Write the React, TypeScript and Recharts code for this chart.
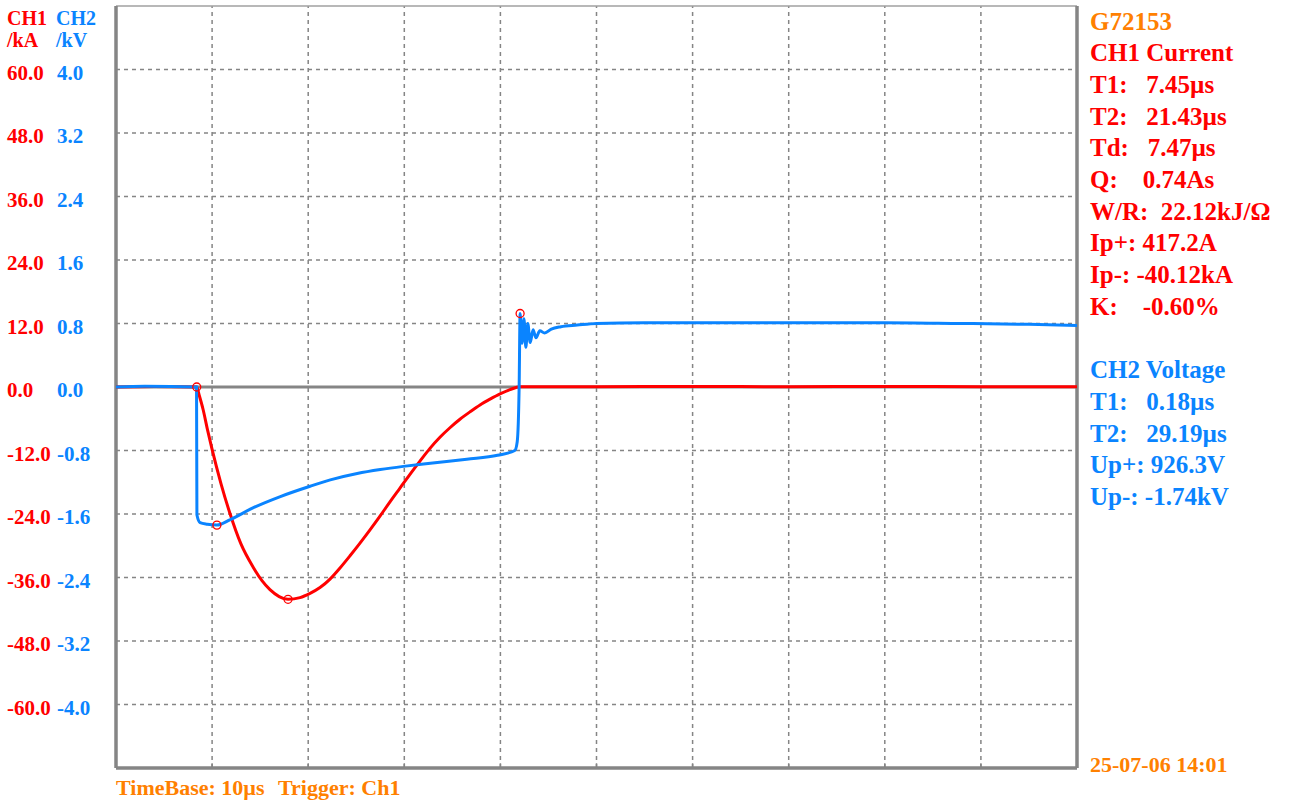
import React from "react";
import { ComposedChart, Line, XAxis, YAxis, ReferenceLine, ReferenceDot } from "recharts";

// ---- data (time in µs) ----
const currentTime = [0, 4, 8.4, 8.65, 9.07, 9.5, 10.0, 10.93, 11.86, 12.99, 14.26, 15.19, 16.02, 16.98, 17.90, 19.15, 20.19, 21.23, 22.27, 23.31, 24.35, 25.39, 26.43, 27.47, 28.51, 29.55, 30.59, 31.63, 32.67, 33.71, 34.75, 35.79, 36.84, 37.88, 38.92, 39.96, 41.0, 42.04, 50, 60, 70, 80, 90, 100];
const currentKA = [0, 0.1, 0, -1.5, -4.3, -7.9, -11.8, -18.3, -23.9, -29.6, -34.0, -36.6, -38.3, -39.6, -40.12, -39.8, -39.0, -37.9, -36.3, -34.2, -31.9, -29.5, -27.0, -24.4, -21.7, -19.1, -16.5, -14.0, -11.6, -9.5, -7.7, -6.1, -4.7, -3.4, -2.3, -1.3, -0.5, 0.05, 0.05, 0.1, 0.05, 0.1, 0.05, 0.05];

const voltageTime = [0, 3, 8.38, 8.42, 8.75, 9.5, 10.5, 11.9, 14.3, 17.1, 20.2, 22.3, 25.1, 27.5, 29.9, 32.0, 34.4, 36.5, 39.7, 41.5, 41.75, 41.95, 42.05, 42.25, 42.45, 42.65, 42.85, 43.1, 43.4, 43.7, 44.1, 44.6, 45.3, 46.3, 48.0, 50.0, 55, 60, 70, 80, 88, 95, 100];
const voltageKV = [0, 0.01, 0, -1.61, -1.71, -1.73, -1.74, -1.67, -1.52, -1.38, -1.25, -1.17, -1.09, -1.04, -1.0, -0.97, -0.94, -0.91, -0.86, -0.8, -0.69, 0.0, 0.926, 0.55, 0.86, 0.5, 0.8, 0.56, 0.72, 0.62, 0.71, 0.68, 0.73, 0.76, 0.78, 0.8, 0.81, 0.81, 0.81, 0.81, 0.8, 0.79, 0.775];

const kaTicks = [60, 48, 36, 24, 12, 0, -12, -24, -36, -48, -60];
const kvTicks = ["4.0", "3.2", "2.4", "1.6", "0.8", "0.0", "-0.8", "-1.6", "-2.4", "-3.2", "-4.0"];
const timeGrid = [10, 20, 30, 40, 50, 60, 70, 80, 90];
const kaDomain = [-72, 72];
const kvDomain = [-4.8, 4.8];
const timeDomain = [0, 100];

const ch1Lines = [
  ["CH1 Current", ""],
  ["T1:   ", "7.45µs"],
  ["T2:   ", "21.43µs"],
  ["Td:   ", "7.47µs"],
  ["Q:    ", "0.74As"],
  ["W/R:  ", "22.12kJ/Ω"],
  ["Ip+: ", "417.2A"],
  ["Ip-: ", "-40.12kA"],
  ["K:    ", "-0.60%"],
];
const ch2Lines = [
  ["CH2 Voltage", ""],
  ["T1:   ", "0.18µs"],
  ["T2:   ", "29.19µs"],
  ["Up+: ", "926.3V"],
  ["Up-: ", "-1.74kV"],
];

const RED = "#ff0000";
const BLUE = "#0a84ff";
const ORANGE = "#ff8000";
const GRAY = "#858585";
const FONT = "'Liberation Serif', 'Times New Roman', serif";

const currentData = currentTime.map((t, i) => ({ t, i: currentKA[i] }));
const voltageData = voltageTime.map((t, i) => ({ t, v: voltageKV[i] }));

const iMinIdx = currentKA.indexOf(Math.min(...currentKA));
const iStartIdx = 2;
const vMinIdx = voltageKV.indexOf(Math.min(...voltageKV));
const vMaxIdx = voltageKV.indexOf(Math.max(...voltageKV));

const AxisTick = (props: any) => {
  const { y, payload } = props;
  const idx = kaTicks.indexOf(payload.value);
  return (
    <g style={{ fontFamily: FONT, fontWeight: "bold", fontSize: 21 }}>
      <text x={7} y={y + 10} fill={RED} textAnchor="start">
        {Number(payload.value).toFixed(1)}
      </text>
      <text x={57} y={y + 10} fill={BLUE} textAnchor="start">
        {kvTicks[idx]}
      </text>
    </g>
  );
};

export default function App() {
  const lineH = 31.7;
  return (
    <div style={{ position: "absolute", left: 0, top: 0, width: 1295, height: 805, background: "#fff" }}>
      <ComposedChart width={1295} height={805} margin={{ top: 6, right: 218, bottom: 37, left: 0 }}>
        <XAxis xAxisId="x" dataKey="t" type="number" domain={timeDomain} hide allowDataOverflow />
        <YAxis
          yAxisId="i"
          type="number"
          domain={kaDomain}
          ticks={kaTicks}
          interval={0}
          width={116}
          axisLine={false}
          tickLine={false}
          tick={<AxisTick />}
          allowDataOverflow
        />
        <YAxis yAxisId="v" type="number" domain={kvDomain} hide allowDataOverflow />

        {timeGrid.map((t) => (
          <ReferenceLine key={"vx" + t} xAxisId="x" yAxisId="i" x={t} stroke={GRAY} strokeWidth={1.5} strokeDasharray="4 4" />
        ))}
        {kaTicks.filter((v) => v !== 0).map((v) => (
          <ReferenceLine key={"hy" + v} xAxisId="x" yAxisId="i" y={v} stroke={GRAY} strokeWidth={1.5} strokeDasharray="4 4" />
        ))}
        {timeGrid.map((t) => (
          <ReferenceLine
            key={"tk" + t}
            xAxisId="x"
            yAxisId="i"
            segment={[{ x: t, y: kaDomain[0] }, { x: t, y: kaDomain[0] + 0.9 }]}
            stroke={GRAY}
            strokeWidth={1.5}
          />
        ))}
        <ReferenceLine xAxisId="x" yAxisId="i" y={0} stroke={GRAY} strokeWidth={3} />
        <ReferenceLine xAxisId="x" yAxisId="i" y={kaDomain[1]} stroke="#a0a0a0" strokeWidth={1.5} />
        <ReferenceLine xAxisId="x" yAxisId="i" y={kaDomain[0]} stroke={GRAY} strokeWidth={3.5} />
        <ReferenceLine xAxisId="x" yAxisId="i" x={timeDomain[0]} stroke={GRAY} strokeWidth={3.5} />
        <ReferenceLine xAxisId="x" yAxisId="i" x={timeDomain[1]} stroke={GRAY} strokeWidth={3.5} />

        <Line
          xAxisId="x"
          yAxisId="i"
          data={currentData}
          dataKey="i"
          type="monotone"
          stroke={RED}
          strokeWidth={3}
          dot={false}
          isAnimationActive={false}
        />
        <Line
          xAxisId="x"
          yAxisId="v"
          data={voltageData}
          dataKey="v"
          type="monotone"
          stroke={BLUE}
          strokeWidth={3}
          dot={false}
          isAnimationActive={false}
        />

        <ReferenceDot xAxisId="x" yAxisId="i" x={currentTime[iStartIdx]} y={currentKA[iStartIdx]} r={4} fill="none" stroke={RED} strokeWidth={1.3} />
        <ReferenceDot xAxisId="x" yAxisId="i" x={currentTime[iMinIdx]} y={currentKA[iMinIdx]} r={4} fill="none" stroke={RED} strokeWidth={1.3} />
        <ReferenceDot xAxisId="x" yAxisId="v" x={voltageTime[vMinIdx]} y={voltageKV[vMinIdx]} r={4} fill="none" stroke={RED} strokeWidth={1.3} />
        <ReferenceDot xAxisId="x" yAxisId="v" x={voltageTime[vMaxIdx]} y={voltageKV[vMaxIdx]} r={4} fill="none" stroke={RED} strokeWidth={1.3} />
      </ComposedChart>

      <svg
        width={1295}
        height={805}
        style={{ position: "absolute", left: 0, top: 0, pointerEvents: "none", fontFamily: FONT, fontWeight: "bold" }}
      >
        <g fontSize={20}>
          <text x={7} y={25} fill={RED}>CH1</text>
          <text x={56} y={25} fill={BLUE}>CH2</text>
          <text x={7} y={47} fill={RED}>/kA</text>
          <text x={56} y={47} fill={BLUE}>/kV</text>
        </g>
        <g fontSize={25} style={{ whiteSpace: "pre" }}>
          <text x={1090} y={29.5} fill={ORANGE}>G72153</text>
          {ch1Lines.map((l, k) => (
            <text key={"c1" + k} x={1090} y={29.5 + lineH * (k + 1)} fill={RED} style={{ whiteSpace: "pre" }}>
              {l[0] + l[1]}
            </text>
          ))}
          {ch2Lines.map((l, k) => (
            <text key={"c2" + k} x={1090} y={29.5 + lineH * (k + 11)} fill={BLUE} style={{ whiteSpace: "pre" }}>
              {l[0] + l[1]}
            </text>
          ))}
        </g>
        <g fontSize={22} fill={ORANGE} style={{ whiteSpace: "pre" }}>
          <text x={116} y={795}>TimeBase: 10µs</text>
          <text x={278} y={795}>Trigger: Ch1</text>
          <text x={1090} y={772}>25-07-06 14:01</text>
        </g>
      </svg>
    </div>
  );
}
